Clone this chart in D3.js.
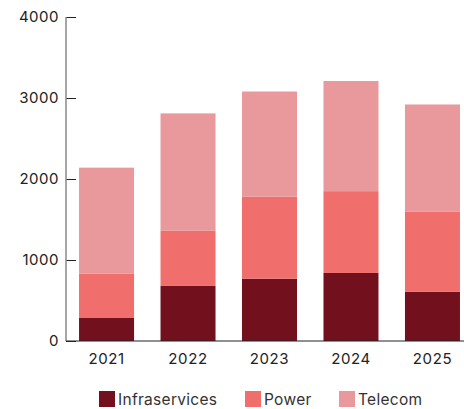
<!DOCTYPE html>
<html>
<head>
<meta charset="utf-8">
<script src="https://cdn.jsdelivr.net/npm/d3@7"></script>
<style>
  html, body { margin: 0; padding: 0; background: #fff; }
  svg { display: block; font-family: "Inter", "Open Sans", sans-serif; }
</style>
</head>
<body>
<svg id="chart" width="464" height="409"></svg>
<script>
// Years on the x axis
const years = ["2021", "2022", "2023", "2024", "2025"];
// Segment values per business line (stacked bottom to top)
const infraservices = [290, 680, 770, 840, 610];
const power = [540, 680, 1010, 1010, 990];
const telecom = [1310, 1450, 1300, 1360, 1320];
const seriesNames = ["Infraservices", "Power", "Telecom"];
const yTicks = [0, 1000, 2000, 3000, 4000];

const colors = { Infraservices: "#73101e", Power: "#f06e6b", Telecom: "#e9999c" };

const rows = years.map((y, i) => ({
  year: y, Infraservices: infraservices[i], Power: power[i], Telecom: telecom[i]
}));
const stacked = d3.stack().keys(seriesNames)(rows);

const svg = d3.select("#chart");
const x = d3.scaleBand().domain(years).range([66, 473]).paddingInner(0.325).paddingOuter(0.16);
const y = d3.scaleLinear().domain([0, 4000]).range([341, 17]);

// Stacked bars
svg.append("g").selectAll("g").data(stacked).join("g")
  .attr("fill", d => colors[d.key])
  .selectAll("rect").data(d => d).join("rect")
  .attr("x", d => x(d.data.year))
  .attr("width", x.bandwidth())
  .attr("y", d => y(d[1]))
  .attr("height", d => y(d[0]) - y(d[1]));

// Y axis with ticks pointing into the plot
const yAxis = svg.append("g").attr("transform", "translate(66,0)")
  .call(d3.axisRight(y).tickValues(yTicks).tickSize(10).tickFormat(""));
yAxis.select(".domain").remove();
yAxis.selectAll(".tick line").attr("stroke", "#222");
svg.append("line").attr("x1", 66).attr("x2", 66).attr("y1", y(4000)).attr("y2", y(0))
  .attr("stroke", "#888").attr("stroke-width", 1.5);
svg.append("g").selectAll("text").data(yTicks).join("text")
  .attr("x", 59).attr("y", d => y(d)).attr("dy", "0.36em")
  .attr("text-anchor", "end").attr("font-size", 15).attr("letter-spacing", 0.5)
  .attr("fill", "#222")
  .text(d => d);

// X axis baseline and year labels
const xAxis = svg.append("g").attr("transform", `translate(0,${y(0)})`)
  .call(d3.axisBottom(x).tickSize(0).tickPadding(12));
xAxis.select(".domain").attr("d", `M66,0H464`).attr("stroke", "#222");
xAxis.selectAll("text").attr("font-size", 15).attr("letter-spacing", 0.6).attr("fill", "#222")
  .attr("font-family", "Inter, 'Open Sans', sans-serif");

// Legend along the bottom edge
const legendX = [99, 245, 339];
const legend = svg.append("g").selectAll("g").data(seriesNames).join("g")
  .attr("transform", (d, i) => `translate(${legendX[i]},391)`);
legend.append("rect").attr("width", 16).attr("height", 16).attr("fill", d => colors[d]);
legend.append("text").attr("x", 19).attr("y", 14)
  .attr("font-size", 15.5).attr("letter-spacing", 0.3).attr("fill", "#333").text(d => d);
</script>
</body>
</html>
